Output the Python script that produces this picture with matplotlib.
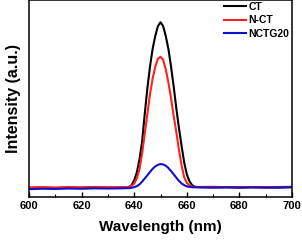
import matplotlib
matplotlib.use('Agg')
import matplotlib.pyplot as plt
from matplotlib.ticker import MultipleLocator

plt.rcParams['font.family'] = ['Liberation Sans', 'DejaVu Sans']
plt.rcParams['font.weight'] = 'bold'

# wavelength grid (nm)
wavelength = [600, 605, 610, 615, 620, 625, 630, 635, 637, 638, 639, 640, 641, 642, 643,
              644, 645, 646, 647, 648, 649, 650, 651, 652, 653, 654, 655, 656, 657,
              658, 659, 660, 661, 662, 663, 665, 670, 675, 680, 685, 690, 695, 700]

ct = [0.046, 0.048, 0.046, 0.048, 0.047, 0.049, 0.047, 0.048, 0.048, 0.050, 0.060, 0.085,
      0.125, 0.19, 0.28, 0.42, 0.55, 0.66, 0.75, 0.815, 0.865, 0.885, 0.865, 0.815, 0.75,
      0.66, 0.56, 0.45, 0.35, 0.26, 0.175, 0.115, 0.080, 0.060, 0.052,
      0.050, 0.049, 0.050, 0.048, 0.050, 0.049, 0.048, 0.050]

n_ct = [0.049, 0.050, 0.048, 0.051, 0.049, 0.051, 0.050, 0.050, 0.050, 0.052, 0.057, 0.068,
        0.095, 0.14, 0.22, 0.32, 0.42, 0.52, 0.60, 0.66, 0.70, 0.71, 0.695, 0.645, 0.58,
        0.50, 0.41, 0.33, 0.24, 0.16, 0.10, 0.072, 0.058, 0.053, 0.051,
        0.051, 0.052, 0.050, 0.051, 0.050, 0.049, 0.051, 0.052]

nctg20 = [0.040, 0.042, 0.041, 0.043, 0.042, 0.044, 0.043, 0.044, 0.045, 0.045, 0.047, 0.050,
          0.055, 0.064, 0.078, 0.094, 0.110, 0.127, 0.143, 0.155, 0.163, 0.167, 0.165, 0.159,
          0.147, 0.132, 0.115, 0.098, 0.082, 0.069, 0.060, 0.054, 0.051, 0.050, 0.049,
          0.049, 0.048, 0.049, 0.048, 0.049, 0.048, 0.049, 0.050]

fig = plt.figure(figsize=(3.02, 2.4), dpi=100)
ax = fig.add_axes([0.096, 0.179, 0.871, 0.823])

ax.plot(wavelength, ct, color='black', lw=1.5, label='CT')
ax.plot(wavelength, n_ct, color='#ff2020', lw=1.5, label='N-CT')
ax.plot(wavelength, nctg20, color='#1010cc', lw=1.5, label='NCTG20')

ax.set_xlim(600, 700)
ax.set_ylim(0, 1.0)
ax.xaxis.set_major_locator(MultipleLocator(20))
ax.xaxis.set_minor_locator(MultipleLocator(10))
ax.tick_params(axis='x', which='major', direction='in', length=3.5, width=1,
               labelsize=8, pad=3)
ax.tick_params(axis='x', which='minor', direction='in', length=2, width=0.8)
ax.set_yticks([])
for s in ax.spines.values():
    s.set_linewidth(1.1)

ax.set_xlabel('Wavelength (nm)', fontsize=11, fontweight='bold', labelpad=6)
ax.set_ylabel('Intensity (a.u.)', fontsize=11.5, fontweight='bold', labelpad=6)

ax.legend(loc='upper right', frameon=False, fontsize=7.5, handlelength=2.2,
          handletextpad=0.2, labelspacing=0.35, borderaxespad=0.1,
          bbox_to_anchor=(1.01, 1.015))

fig.savefig('out.png', dpi=100)
